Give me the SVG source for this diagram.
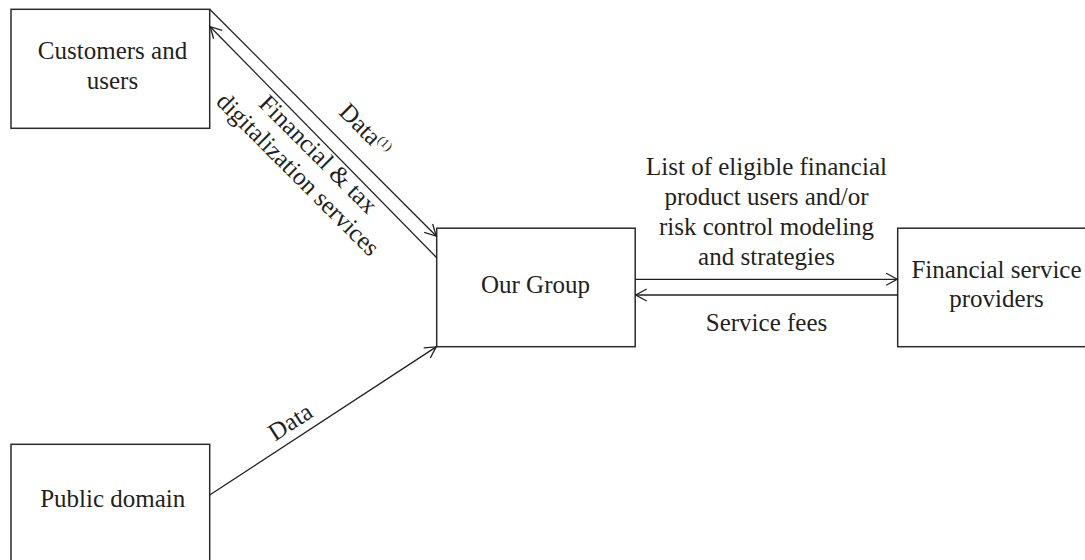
<svg xmlns="http://www.w3.org/2000/svg" width="1085" height="560" viewBox="0 0 1085 560">
  <defs>
    <style>
      .box { fill: #ffffff; stroke: #2b2b2b; stroke-width: 1.5; }
      .lbl { font-family: "Liberation Serif", "Times New Roman", serif; font-size: 25px; fill: #231f20; }
      .mid { text-anchor: middle; }
      .link { fill: none; stroke: #231f20; stroke-width: 1.3; }
    </style>
    <!-- open V arrowhead -->
    <marker id="arrow" markerUnits="userSpaceOnUse" markerWidth="16" markerHeight="16" viewBox="-13 -8 16 16" refX="0" refY="0" orient="auto" overflow="visible">
      <path d="M-11,-6 L0,0 L-11,6" fill="none" stroke="#231f20" stroke-width="1.3"/>
    </marker>
  </defs>

  <rect width="1085" height="560" fill="#ffffff"/>

  <g id="customers">
    <rect class="box" x="11" y="9.3" width="198.7" height="119"/>
    <text class="lbl mid" x="112.5" y="59.3">Customers and</text>
    <text class="lbl mid" x="112.5" y="89.3">users</text>
  </g>

  <g id="our-group">
    <rect class="box" x="436.7" y="228.2" width="198.5" height="118.5"/>
    <text class="lbl mid" x="535.5" y="292.7">Our Group</text>
  </g>

  <g id="financial-service-providers">
    <rect class="box" x="897.7" y="228.2" width="199" height="118.5"/>
    <text class="lbl mid" x="996.5" y="278.3">Financial service</text>
    <text class="lbl mid" x="996.5" y="307">providers</text>
  </g>

  <g id="public-domain">
    <rect class="box" x="11" y="444.3" width="198.7" height="119"/>
    <text class="lbl mid" x="112.7" y="506.7">Public domain</text>
  </g>

  <g id="connectors">
    <!-- customers -> group: data -->
    <line class="link" x1="209.7" y1="9.3" x2="436.2" y2="236" marker-end="url(#arrow)"/>
    <!-- group -> customers: services -->
    <line class="link" x1="436.7" y1="257.7" x2="210.2" y2="26.7" marker-end="url(#arrow)"/>
    <!-- group -> providers -->
    <line class="link" x1="635.2" y1="279.3" x2="897.2" y2="279.3" marker-end="url(#arrow)"/>
    <!-- providers -> group: fees -->
    <line class="link" x1="897.7" y1="295" x2="635.7" y2="295" marker-end="url(#arrow)"/>
    <!-- public domain -> group -->
    <line class="link" x1="209.7" y1="495" x2="436.2" y2="346.9" marker-end="url(#arrow)"/>

    <!-- connector labels -->
    <text class="lbl" transform="translate(337.7,113.3) rotate(45)">Data<tspan font-size="13" dy="-8">(1)</tspan></text>
    <g transform="translate(312.5,160) rotate(45)">
      <text class="lbl mid" x="0" y="0">Financial &amp; tax</text>
      <text class="lbl mid" x="0" y="28.5">digitalization services</text>
    </g>
    <text class="lbl" transform="translate(275,441.7) rotate(-33.2)">Data</text>
    <text class="lbl mid" x="766.5" y="175">List of eligible financial</text>
    <text class="lbl mid" x="766.5" y="205">product users and/or</text>
    <text class="lbl mid" x="766.5" y="235">risk control modeling</text>
    <text class="lbl mid" x="766.5" y="265">and strategies</text>
    <text class="lbl mid" x="766.5" y="330.7">Service fees</text>
  </g>
</svg>
